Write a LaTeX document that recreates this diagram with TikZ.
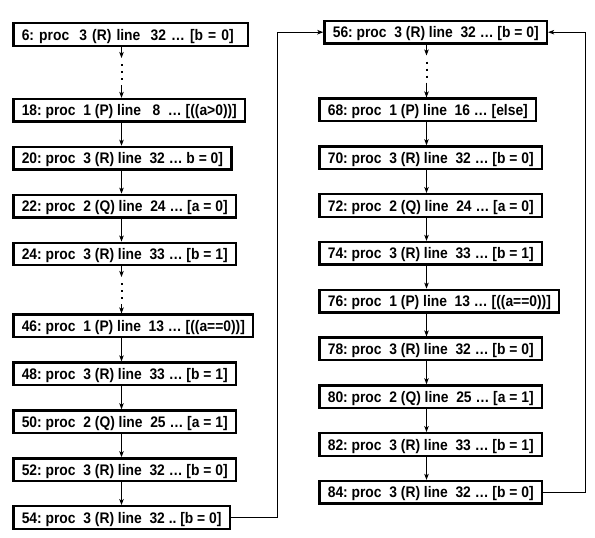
\documentclass[tikz,border=0pt]{standalone}
\usepackage{fontspec}
\setmainfont{Liberation Sans}[FakeStretch=0.905]
\usepackage{tikz}
\usetikzlibrary{arrows.meta}

\begin{document}
\begin{tikzpicture}[x=1pt, y=-1pt, >={Stealth[length=6pt,width=4.5pt,inset=1.5pt]}]
    % Styles
    \tikzset{
        state/.style={draw, line width=2.4pt, anchor=west, inner xsep=8.3pt, inner ysep=2pt,
            minimum height=22.5pt, text height=11pt, text depth=0pt,
            font=\fontsize{15.3}{18}\selectfont\bfseries\frenchspacing},
        link/.style={->, line width=0.9pt},
        gap/.style={line width=2pt, dash pattern=on 2pt off 5pt, shorten <=6pt, shorten >=5pt}
    }
    \useasboundingbox (0,0) rectangle (595,538);

    % Columns of the arrows and of the two loops
    \coordinate (colL) at (121.5,0);
    \coordinate (colR) at (426.5,0);
    \coordinate (loopL) at (277.5,0);
    \coordinate (loopR) at (585.5,0);

    % Left run (x=12.3)
    \node[state, text width=217.7pt, align=left] (s6) at (12.3,34.5) {6: proc\ \ 3 (R) line\ \ 32 … [b = 0]};
    \node[state] (s18) at (12.3,110.3) {18: proc\ \ 1 (P) line\ \ \ 8\ \ … [((a>0))]};
    \node[state] (s20) at (12.3,158.2) {20: proc\ \ 3 (R) line\ \ 32 … b = 0]};
    \node[state] (s22) at (12.3,206.1) {22: proc\ \ 2 (Q) line\ \ 24 … [a = 0]};
    \node[state] (s24) at (12.3,254.0) {24: proc\ \ 3 (R) line\ \ 33 … [b = 1]};
    \node[state] (s46) at (12.3,325.9) {46: proc\ \ 1 (P) line\ \ 13 … [((a==0))]};
    \node[state] (s48) at (12.3,373.8) {48: proc\ \ 3 (R) line\ \ 33 … [b = 1]};
    \node[state] (s50) at (12.3,421.7) {50: proc\ \ 2 (Q) line\ \ 25 … [a = 1]};
    \node[state] (s52) at (12.3,469.6) {52: proc\ \ 3 (R) line\ \ 32 … [b = 0]};
    \node[state] (s54) at (12.3,517.5) {54: proc\ \ 3 (R) line\ \ 32 .. [b = 0]};

    % Right run (x=318), the loop head a bit further in
    \node[state] (s56) at (323.3,32.2) {56: proc\ \ 3 (R) line\ \ 32 … [b = 0]};
    \node[state] (s68) at (318.3,109.9) {68: proc\ \ 1 (P) line\ \ 16 … [else]};
    \node[state] (s70) at (318.3,157.7) {70: proc\ \ 3 (R) line\ \ 32 … [b = 0]};
    \node[state] (s72) at (318.3,205.5) {72: proc\ \ 2 (Q) line\ \ 24 … [a = 0]};
    \node[state] (s74) at (318.3,253.3) {74: proc\ \ 3 (R) line\ \ 33 … [b = 1]};
    \node[state] (s76) at (318.3,301.1) {76: proc\ \ 1 (P) line\ \ 13 … [((a==0))]};
    \node[state] (s78) at (318.3,348.9) {78: proc\ \ 3 (R) line\ \ 32 … [b = 0]};
    \node[state] (s80) at (318.3,396.7) {80: proc\ \ 2 (Q) line\ \ 25 … [a = 1]};
    \node[state] (s82) at (318.3,444.5) {82: proc\ \ 3 (R) line\ \ 33 … [b = 1]};
    \node[state] (s84) at (318.3,492.3) {84: proc\ \ 3 (R) line\ \ 32 … [b = 0]};

    % Skipped steps (dotted)
    \coordinate (g1a) at (121.5,58);
    \coordinate (g1b) at (121.5,85);
    \coordinate (g2a) at (121.5,277);
    \coordinate (g2b) at (121.5,304);
    \coordinate (g3a) at (426.5,55.5);
    \coordinate (g3b) at (426.5,82.5);

    \draw[link] (s6.south -| colL) -- (g1a);
    \draw[gap] (g1a) -- (g1b);
    \draw[link] (g1b) -- (s18.north -| colL);

    \draw[link] (s24.south -| colL) -- (g2a);
    \draw[gap] (g2a) -- (g2b);
    \draw[link] (g2b) -- (s46.north -| colL);

    \draw[link] (s56.south -| colR) -- (g3a);
    \draw[gap] (g3a) -- (g3b);
    \draw[link] (g3b) -- (s68.north -| colR);

    % Single steps, left run
    \draw[link] (s18.south -| colL) -- (s20.north -| colL);
    \draw[link] (s20.south -| colL) -- (s22.north -| colL);
    \draw[link] (s22.south -| colL) -- (s24.north -| colL);
    \draw[link] (s46.south -| colL) -- (s48.north -| colL);
    \draw[link] (s48.south -| colL) -- (s50.north -| colL);
    \draw[link] (s50.south -| colL) -- (s52.north -| colL);
    \draw[link] (s52.south -| colL) -- (s54.north -| colL);

    % Single steps, right run
    \draw[link] (s68.south -| colR) -- (s70.north -| colR);
    \draw[link] (s70.south -| colR) -- (s72.north -| colR);
    \draw[link] (s72.south -| colR) -- (s74.north -| colR);
    \draw[link] (s74.south -| colR) -- (s76.north -| colR);
    \draw[link] (s76.south -| colR) -- (s78.north -| colR);
    \draw[link] (s78.south -| colR) -- (s80.north -| colR);
    \draw[link] (s80.south -| colR) -- (s82.north -| colR);
    \draw[link] (s82.south -| colR) -- (s84.north -| colR);

    % Back edges into 56
    \draw[link] (s54.east) -- (s54.east -| loopL) |- (s56.west);
    \draw[link] (s84.east) -- (s84.east -| loopR) |- (s56.east);
\end{tikzpicture}
\end{document}
